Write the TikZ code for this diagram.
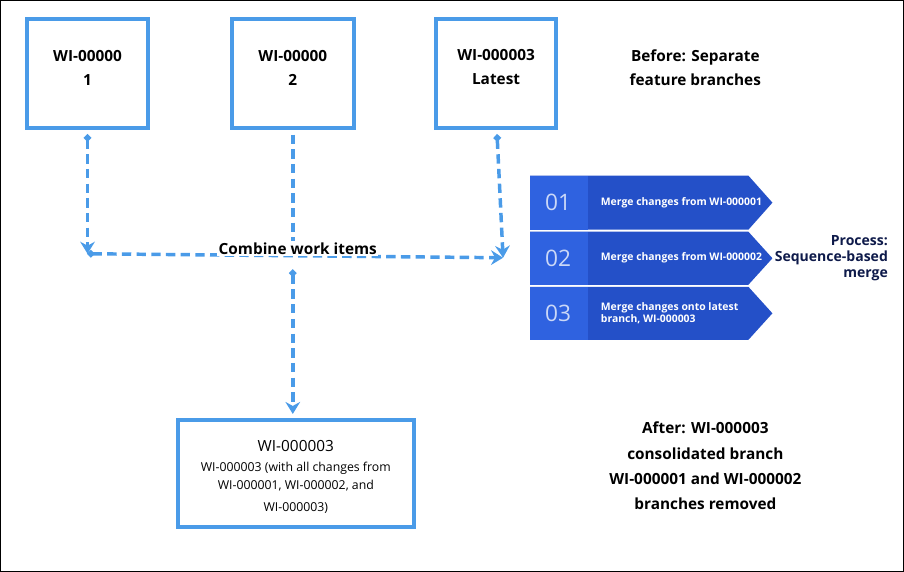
\documentclass[tikz,border=0pt]{standalone}
\usepackage{fontspec}
\setmainfont{Open Sans}
\usetikzlibrary{arrows.meta,positioning}
\definecolor{wiblue}{HTML}{4A9BE8}
\definecolor{stepdark}{HTML}{2450C8}
\definecolor{steplight}{HTML}{2F62E0}
\definecolor{navy}{HTML}{0E1A4A}
\tikzset{
  item/.style={draw=wiblue,line width=3pt,align=center,font=\bfseries},
  flow/.style={draw=wiblue,line width=2.6pt,dash pattern=on 7pt off 4pt,{Circle[length=5pt,width=5pt]}-{Stealth[length=9pt,width=11pt,inset=3pt]}},
  note/.style={align=center,font=\fontsize{11.5}{14}\selectfont\bfseries},
  chevron/.style={fill=stepdark},
  stepnum/.style={text=white!75!steplight,font=\fontsize{17}{20}\selectfont},
  steptext/.style={text=white,font=\fontsize{7.8}{9.5}\selectfont\bfseries,align=left,anchor=west}
}
\begin{document}
\begin{tikzpicture}[x=0.75pt,y=-0.75pt]
\draw[line width=0.6pt] (1,1) rectangle (903,571);

% feature branches
\draw[item] (28,20) rectangle (148,128);
\node[note] (b1) at (88,68) {WI-00000\\[4pt]1};
\draw[item] (232,20) rectangle (354,128);
\node[note] (b2) at (293,68) {WI-00000\\[4pt]2};
\draw[item] (436,20) rectangle (556,128);
\node[note] (b3) at (496,68) {WI-000003\\[4pt]Latest};
\node[note] (before) at (695,68) {Before: Separate\\[4pt]feature branches};

% combine
\coordinate (s1) at (88,135);
\coordinate (s2) at (293,135);
\coordinate (s3) at (497,135);
\coordinate (c1) at (88,254);
\coordinate (c2) at (293,254);
\coordinate (c3) at (503,258);
\draw[flow] (s1) -- (c1);
\draw[flow,-] (s2) -- (c2);
\draw[flow] (s3) -- (c3);
\draw[flow] (c1) -- (c3);
\node[note,fill=white,inner sep=1pt] (combine) at (298,249) {Combine work items};
\coordinate (s4) at (293,270);
\coordinate (e4) at (293,414);
\draw[flow] (s4) -- (e4);

% result
\draw[item] (178,420) rectangle (414,527);
\node[align=center,font=\fontsize{11.5}{14}\selectfont] (res) at (296,446) {WI-000003};
\node[align=center,font=\fontsize{9.2}{11}\selectfont,below=1pt of res] (resdet)
  {WI-000003 (with all changes from\\[2pt]WI-000001, WI-000002, and\\[6pt]WI-000003)};
\node[note] (after) at (705,466) {After: WI-000003\\[5pt]consolidated branch\\[5pt]WI-000001 and WI-000002\\[5pt]branches removed};

% process
\foreach \i/\t/\b/\txt in {1/176/230/{Merge changes from WI-000001},
    2/232/285/{Merge changes from WI-000002},
    3/287/340/{Merge changes onto latest\\branch, WI-000003}} {
  \fill[chevron] (530,\t) -- (748,\t) -- (772,{(\t+\b)/2}) -- (748,\b) -- (530,\b) -- cycle;
  \fill[steplight] (530,\t) rectangle (588,\b);
  \node[stepnum] (n\i) at (558,{(\t+\b)/2}) {0\i};
  \node[steptext] (t\i) at (596,{(\t+\b)/2}) {\txt};
}
\node[align=right,anchor=east,text=navy,font=\fontsize{10.5}{12}\selectfont\bfseries] (proc) at (892,258)
  {Process:\\Sequence-based\\merge};
\end{tikzpicture}
\end{document}
